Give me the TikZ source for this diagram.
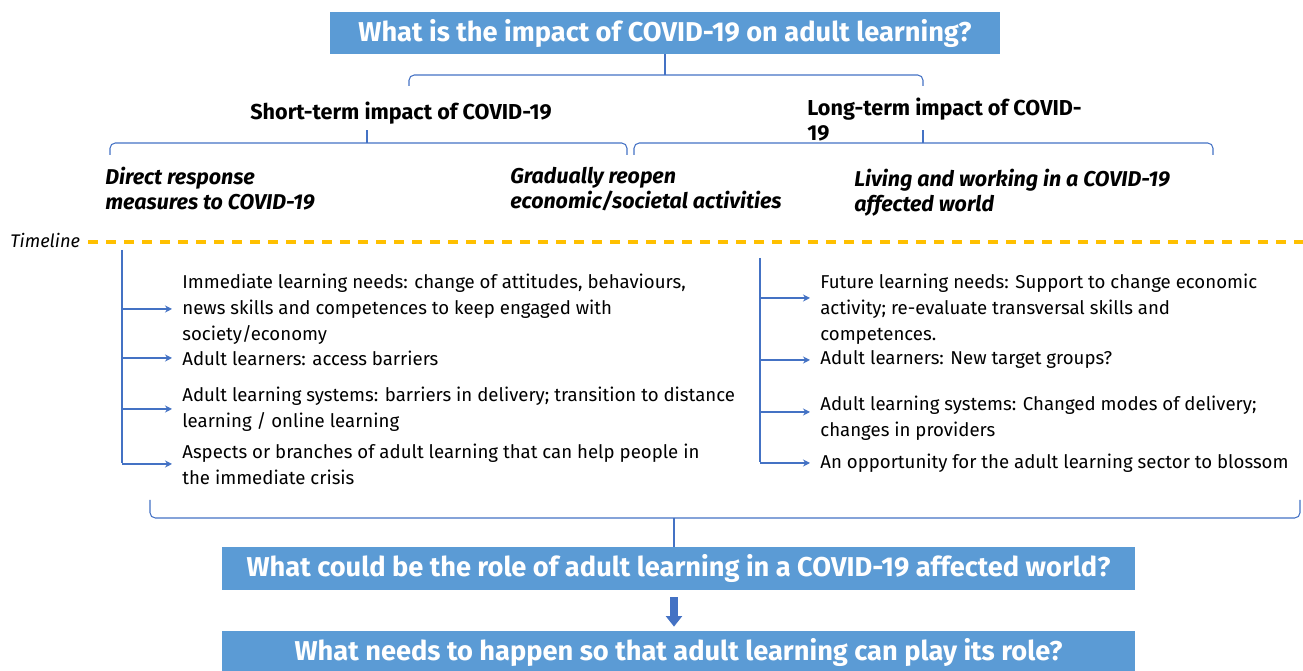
\documentclass[tikz,border=0pt]{standalone}
\usepackage{fontspec}
\setmainfont{Fira Sans}
\usetikzlibrary{positioning,calc,arrows.meta}
\definecolor{boxblue}{RGB}{91,155,213}
\definecolor{lineblue}{RGB}{68,114,196}
\definecolor{timeorange}{RGB}{255,192,0}
\tikzset{
    question/.style={rectangle, fill=boxblue, text=white, inner sep=0pt,
        font=\bfseries\fontsize{15.5}{18}\selectfont},
    phase/.style={anchor=north west, align=left, inner sep=0pt,
        font=\bfseries\itshape\fontsize{12.2}{14.2}\selectfont},
    horizon/.style={anchor=west, align=left, inner sep=0pt,
        font=\bfseries\fontsize{12.3}{14.2}\selectfont},
    need/.style={anchor=west, align=left, inner sep=0pt,
        font=\fontsize{10.6}{14.7}\selectfont},
    brace/.style={draw=lineblue, line width=0.6pt, rounded corners=3pt},
    arr/.style={draw=lineblue, line width=0.6pt, -{Stealth[length=4pt,width=4pt]}},
    fatarrow/.style={draw=lineblue, line width=4.5pt, -{Triangle[width=9pt,length=6pt]}}
}
\begin{document}
\begin{tikzpicture}[x=0.02cm, y=-0.02cm]
    \useasboundingbox (0,0) rectangle (1303,671);

    % questions
    \node[question, minimum width=13.4cm, minimum height=0.84cm] (q1) at (665,33)
        {What is the impact of COVID-19 on adult learning?};
    \node[question, minimum width=18.26cm, minimum height=0.86cm] (q2) at (678.5,568.5)
        {What could be the role of adult learning in a COVID-19 affected world?};
    \node[question, minimum width=18.26cm, minimum height=0.86cm] (q3) at (678.5,652.5)
        {What needs to happen so that adult learning can play its role?};

    % short / long term
    \node[horizon] (short) at (250,113) {Short-term impact of COVID-19};
    \node[horizon] (long) at (807,120) {Long-term impact of COVID-\\19};

    \draw[brace] (409,86) -- (409,75) -- (923,75) -- (923,86);
    \draw[brace] (q1.south) -- (q1.south |- 0,75);
    \draw[brace] (110,155) -- (110,143) -- (627,143) -- (627,155);
    \draw[brace] (367,143) -- (367,130);
    \draw[brace] (634,155) -- (634,143) -- (1213,143) -- (1213,155);
    \draw[brace] (923,143) -- (923,130);

    % phases
    \node[phase] (direct) at (105,167) {Direct response\\measures to COVID-19};
    \node[phase] (reopen) at (510,167) {Gradually reopen\\economic/societal activities};
    \node[phase] (living) at (854,169) {Living and working in a COVID-19\\affected world};

    % timeline
    \node[anchor=west, inner sep=0pt, font=\itshape\fontsize{10.4}{12}\selectfont] (timeline) at (10,240) {Timeline};
    \draw[timeorange, line width=1.8pt, dash pattern=on 0.2cm off 0.16cm] (timeline.east) ++(8,2) -- (1303,242);

    % short-term needs
    \node[need] (n1) at (182,309) {Immediate learning needs: change of attitudes, behaviours,\\news skills and competences to keep engaged with\\society/economy};
    \node[need] (n2) at (182,358) {Adult learners: access barriers};
    \node[need] (n3) at (182,409) {Adult learning systems: barriers in delivery; transition to distance\\learning / online learning};
    \node[need] (n4) at (182,464) {Aspects or branches of adult learning that can help people in\\the immediate crisis};
    \coordinate (ltop) at (122,250);
    \coordinate (lbot) at (122,463);
    \draw[brace] (ltop) -- (lbot);
    \foreach \n in {n1,n2,n3,n4}
        \draw[arr] (ltop |- \n.west) -- ([xshift=-0.2cm]\n.west);

    % long-term needs
    \node[need] (m1) at (820,309) {Future learning needs: Support to change economic\\activity; re-evaluate transversal skills and\\competences.};
    \node[need] (m2) at (820,360) {Adult learners: New target groups?};
    \node[need] (m3) at (820,418) {Adult learning systems: Changed modes of delivery;\\changes in providers};
    \node[need] (m4) at (820,463) {An opportunity for the adult learning sector to blossom};
    \coordinate (rtop) at (760,258);
    \coordinate (rbot) at (760,462);
    \draw[brace] (rtop) -- (rbot);
    \draw[arr] (rtop |- 0,298) -- ([xshift=-0.2cm]m1.west |- 0,298);
    \draw[arr] (rtop |- m2.west) -- ([xshift=-0.2cm]m2.west);
    \draw[arr] (rtop |- 0,412) -- ([xshift=-0.2cm]m3.west |- 0,412);
    \draw[arr] (rtop |- m4.west) -- ([xshift=-0.2cm]m4.west);

    % bottom brace
    \coordinate (mid) at (674,518);
    \draw[brace] (150,500) -- (150,518) -- (1300,518) -- (1300,500);
    \draw[brace] (mid) -- (mid |- q2.north);

    \draw[fatarrow] ([yshift=-0.14cm]mid |- q2.south) -- ([yshift=0.08cm]mid |- q3.north);
\end{tikzpicture}
\end{document}
